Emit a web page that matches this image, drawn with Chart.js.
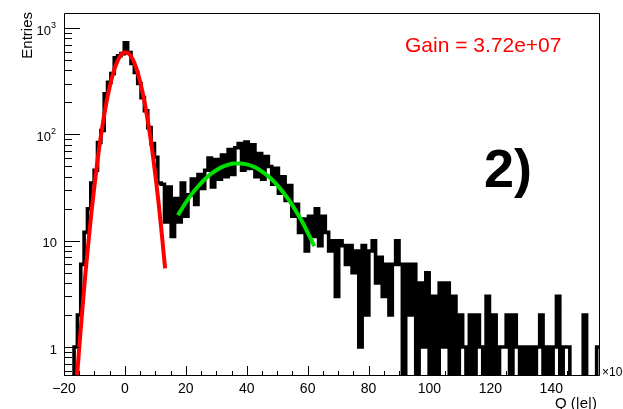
<!DOCTYPE html>
<html>
<head>
<meta charset="utf-8">
<script src="https://cdn.jsdelivr.net/npm/chart.js@4.4.1/dist/chart.umd.min.js"></script>
<style>
  html, body { margin: 0; padding: 0; background: #fff; }
  #wrap { width: 623px; height: 409px; position: relative; }
</style>
</head>
<body>
<div id="wrap"><canvas id="chart" width="623" height="409"></canvas></div>
<script>
// charge spectrum, 160 bins from -20 to 156 (x 10^6 e)
const binLow = -20;
const binHigh = 156;
const counts = [
    0, 0, 0, 1, 2, 6, 12, 20, 35, 46,
    84, 109, 242, 309, 375, 528, 550, 576, 729, 590,
    466, 384, 302, 222, 167, 116, 82, 61, 35, 34,
    15, 32, 11, 25, 15, 35, 17, 27, 38, 22,
    42, 31, 46, 60, 32, 58, 38, 64, 40, 72,
    42, 75, 82, 46, 85, 48, 80, 40, 66, 38,
    62, 50, 34, 48, 28, 40, 24, 33, 17, 22,
    12, 16, 8, 17, 11, 20, 9, 17, 12, 8,
    10, 3, 10, 9, 6, 9, 5, 8, 1, 9,
    2, 8, 10, 4, 7, 3, 6, 2, 6, 10,
    6, 0, 6, 2, 6, 0, 4, 1, 5, 0,
    3, 0, 4, 1, 4, 0, 3, 0, 2, 1,
    0, 2, 0, 2, 1, 0, 3, 0, 2, 0,
    1, 1, 2, 0, 2, 1, 0, 1, 0, 1,
    0, 1, 2, 0, 1, 0, 1, 3, 0, 1,
    1, 0, 0, 0, 0, 2, 0, 0, 0, 1
];

// pedestal fit (red)
const pedQ = [-16, -15, -14, -13, -12, -11, -10, -9, -8, -7, -6, -5, -4, -3, -2, -1,
    0, 1, 2, 3, 4, 5, 6, 7, 8, 9, 10, 11, 12, 13, 13.2];
const pedFit = [0.41, 0.99, 2.2, 4.8, 9.6, 18.4, 33, 57, 92, 141, 205, 281, 365, 448, 520, 572,
    594, 584, 544, 479, 399, 314, 234, 165, 110, 70, 41.5, 23.5, 12.5, 6.3, 5.5];

// single photoelectron fit (green)
const speQ = [17.4, 20, 22, 24, 26, 28, 30, 32, 34, 36, 38, 40, 42, 44, 46, 48,
    50, 52, 54, 56, 58, 60, 62.2];
const speFit = [17.4, 22.9, 27.6, 32.4, 37.3, 42, 46.1, 49.5, 52, 53.3, 53.4, 52.3, 50.1, 46.9, 42.8, 38.3,
    33.4, 28.5, 23.8, 19.4, 15.5, 12, 8.9];

const xTickLabels = [-20, 0, 20, 40, 60, 80, 100, 120, 140];
const yTickLabels = [1, 10, 100, 1000];
const gainText = 'Gain = 3.72e+07';

const yMin = 0.534;
const yMax = 1390;

// histogram outline as a step line through bin centres
const binWidth = (binHigh - binLow) / counts.length;
const histPoints = [{ x: binLow, y: counts[0] || 0.1 }];
counts.forEach((c, i) => {
    histPoints.push({ x: binLow + binWidth * (i + 0.5), y: c > 0 ? c : 0.1 });
});
histPoints.push({ x: binHigh, y: counts[counts.length - 1] || 0.1 });

const pedPoints = pedQ.map((q, i) => ({ x: q, y: pedFit[i] }));
const spePoints = speQ.map((q, i) => ({ x: q, y: speFit[i] }));

const FONT = '"Liberation Sans", Arial, Helvetica, sans-serif';

// ROOT-like frame, inward ticks and labels
const rootAxes = {
    id: 'rootAxes',
    afterDraw(chart) {
        const { ctx, chartArea: a, scales } = chart;
        const xs = scales.x, ys = scales.y;
        ctx.save();
        ctx.strokeStyle = '#000';
        ctx.fillStyle = '#000';
        ctx.lineWidth = 1;

        // frame
        ctx.beginPath();
        ctx.moveTo(a.left + 0.5, a.top + 0.5);
        ctx.lineTo(a.right - 0.5, a.top + 0.5);
        ctx.lineTo(a.right - 0.5, a.bottom - 0.5);
        ctx.lineTo(a.left + 0.5, a.bottom - 0.5);
        ctx.closePath();
        ctx.stroke();

        // x ticks every 5, labelled every 20
        ctx.beginPath();
        for (let v = binLow; v <= binHigh; v += 5) {
            const px = Math.round(xs.getPixelForValue(v)) + 0.5;
            const len = xTickLabels.includes(v) ? 10 : 5;
            ctx.moveTo(px, a.bottom);
            ctx.lineTo(px, a.bottom - len);
        }
        // y ticks, log decades
        [0.1, 1, 10, 100, 1000].forEach(d => {
            for (let m = 1; m <= 9; m++) {
                const v = d * m;
                if (v < yMin || v > yMax) continue;
                const py = Math.round(ys.getPixelForValue(v)) + 0.5;
                ctx.moveTo(a.left, py);
                ctx.lineTo(a.left + (m === 1 ? 16 : 8), py);
            }
        });
        ctx.stroke();

        ctx.font = '14px ' + FONT;
        ctx.textAlign = 'center';
        ctx.textBaseline = 'alphabetic';
        xTickLabels.forEach(v => {
            const txt = v < 0 ? '\u2212' + Math.abs(v) : String(v);
            ctx.fillText(txt, xs.getPixelForValue(v), a.bottom + 17);
        });

        // y labels: 1, 10, 10^2, 10^3
        const right = 57;
        yTickLabels.forEach(v => {
            const py = ys.getPixelForValue(v);
            const exp = Math.round(Math.log10(v));
            ctx.textAlign = 'left';
            if (exp <= 1) {
                ctx.font = '13px ' + FONT;
                const t = String(v);
                ctx.fillText(t, right - ctx.measureText(t).width, py + 6.5);
            } else {
                ctx.font = '9px ' + FONT;
                const sup = String(exp);
                const ws = ctx.measureText(sup).width;
                ctx.font = '13px ' + FONT;
                const wb = ctx.measureText('10').width;
                const x0 = right - 1 - ws - wb;
                ctx.fillText('10', x0, py + 6.5);
                ctx.font = '9px ' + FONT;
                ctx.fillText(sup, x0 + wb, py - 0.5);
            }
        });

        // axis titles
        ctx.font = '15px ' + FONT;
        ctx.save();
        ctx.translate(32, 12);
        ctx.rotate(-Math.PI / 2);
        ctx.textAlign = 'right';
        ctx.fillText('Entries', 0, 0);
        ctx.restore();

        ctx.textAlign = 'right';
        ctx.fillText('Q (|e|)', 597, 408);

        ctx.textAlign = 'left';
        ctx.font = '12px ' + FONT;
        ctx.fillText('\u00d710', 602, 376);
        ctx.font = '9px ' + FONT;
        ctx.fillText('6', 602 + 21, 369);

        // annotations
        ctx.fillStyle = '#ff0000';
        ctx.font = '21px ' + FONT;
        ctx.fillText(gainText, 405, 52);

        ctx.fillStyle = '#000';
        ctx.font = 'bold 54px ' + FONT;
        ctx.fillText('2)', 484, 187);

        ctx.restore();
    }
};

new Chart(document.getElementById('chart').getContext('2d'), {
    type: 'line',
    data: {
        datasets: [
            {
                label: 'pedestal fit',
                data: pedPoints,
                borderColor: '#ff0000',
                borderWidth: 4,
                pointRadius: 0,
                tension: 0.4,
                cubicInterpolationMode: 'monotone',
                fill: false,
                clip: 0,
                order: 0
            },
            {
                label: 'spe fit',
                data: spePoints,
                borderColor: '#00e000',
                borderWidth: 4,
                pointRadius: 0,
                tension: 0.4,
                cubicInterpolationMode: 'monotone',
                fill: false,
                clip: 0,
                order: 0
            },
            {
                label: 'Entries',
                data: histPoints,
                borderColor: '#000',
                borderWidth: 3.6,
                pointRadius: 0,
                stepped: 'middle',
                fill: false,
                clip: 0,
                order: 1
            }
        ]
    },
    options: {
        responsive: false,
        devicePixelRatio: 1,
        animation: false,
        parsing: false,
        layout: { padding: { left: 64, right: 23, top: 13, bottom: 33 } },
        plugins: { legend: { display: false }, tooltip: { enabled: false } },
        scales: {
            x: { type: 'linear', min: binLow, max: binHigh, display: false },
            y: { type: 'logarithmic', min: yMin, max: yMax, display: false }
        }
    },
    plugins: [rootAxes]
});
</script>
</body>
</html>
